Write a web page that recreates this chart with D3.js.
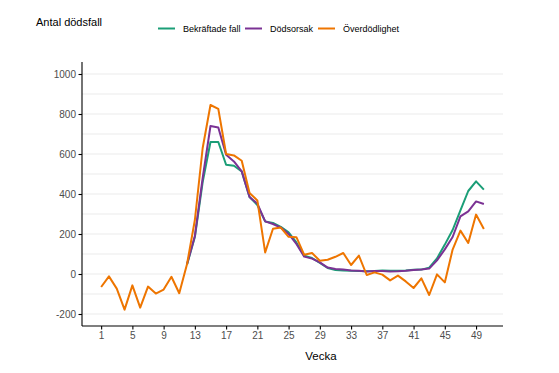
<!DOCTYPE html>
<html>
<head>
<meta charset="utf-8">
<script src="https://cdn.jsdelivr.net/npm/d3@7"></script>
<style>
  body { margin: 0; background: #fff; }
  text { font-family: "Liberation Sans", Arial, sans-serif; }
</style>
</head>
<body>
<div id="app"></div>
<script>
// veckor 1..50
const weeks = d3.range(1, 51);
const seriesNames = ['Bekräftade fall', 'Dödsorsak', 'Överdödlighet'];
const colors = ['#1b9e77', '#7b3294', '#ee7500'];

// data från vecka 12 och framåt
const bekraftade = [48, 185, 460, 660, 660, 546, 541, 513, 385, 345,
  263, 255, 236, 208, 158, 91, 80, 56, 30, 20,
  17, 16, 15, 14, 15, 17, 16, 16, 18, 21,
  22, 32, 78, 147, 220, 318, 415, 463, 422];
const dodsorsak = [50, 190, 480, 740, 733, 596, 563, 513, 385, 352,
  263, 250, 232, 200, 150, 87, 77, 58, 32, 25,
  22, 18, 16, 13, 15, 15, 13, 14, 16, 20,
  22, 27, 68, 123, 185, 288, 313, 363, 350];
// hela året
const overdodlighet = [-65, -12, -73, -178, -57, -168, -63, -98, -78, -14,
  -96, 50, 270, 630, 845, 826, 600, 593, 566, 405,
  368, 108, 226, 232, 186, 184, 96, 105, 66, 71,
  86, 105, 45, 92, -5, 8, -3, -32, -8, -37,
  -70, -22, -105, -2, -42, 122, 217, 155, 297, 225];
const startWeek = 12;

const xTicks = d3.range(1, 51, 4);
const yTicks = [-200, 0, 200, 400, 600, 800, 1000];
const yGrid = d3.range(-200, 1001, 100);

const W = 559, H = 373;
const plot = { left: 82, right: 503, top: 62, bottom: 326 };

const x = d3.scaleLinear().domain([1 - 2.45, 50 + 2.45]).range([plot.left, plot.right]);
const y = d3.scaleLinear().domain([-260, 1060]).range([plot.bottom, plot.top]);

const svg = d3.select('#app').append('svg')
  .attr('width', W).attr('height', H);

// grid
svg.append('g').selectAll('line').data(yGrid).join('line')
  .attr('x1', plot.left).attr('x2', plot.right)
  .attr('y1', d => y(d)).attr('y2', d => y(d))
  .attr('stroke', '#ebebeb').attr('stroke-width', 1);

const toPoints = (vals, start) => vals.map((v, i) => ({ w: start + i, v }));
const series = [
  toPoints(bekraftade, startWeek),
  toPoints(dodsorsak, startWeek),
  toPoints(overdodlighet, 1),
];

const line = d3.line().x(d => x(d.w)).y(d => y(d.v));

svg.append('g').selectAll('path').data(series).join('path')
  .attr('d', line)
  .attr('fill', 'none')
  .attr('stroke', (d, i) => colors[i])
  .attr('stroke-width', 2)
  .attr('stroke-linejoin', 'round');

// axes
const yAxis = g => g
  .attr('transform', `translate(${plot.left},0)`)
  .call(d3.axisLeft(y).tickValues(yTicks).tickFormat(d => String(d))
    .tickSize(3.5).tickPadding(2.5).tickSizeOuter(0))
  .call(g => g.select('.domain').attr('d', `M0,${plot.top}V${plot.bottom}`));

const xAxis = g => g
  .attr('transform', `translate(0,${plot.bottom})`)
  .call(d3.axisBottom(x).tickValues(xTicks).tickFormat(d => String(d))
    .tickSize(3.5).tickPadding(2.5).tickSizeOuter(0))
  .call(g => g.select('.domain').attr('d', `M${plot.left},0H${plot.right}`));

svg.append('g').call(yAxis);
svg.append('g').call(xAxis);

svg.selectAll('.tick text')
  .attr('fill', '#4d4d4d')
  .style('font-size', '10px')
  .style('font-family', '"Liberation Sans", Arial, sans-serif');
svg.selectAll('.domain, .tick line').attr('stroke', '#000').attr('stroke-width', 1.1);

// titles
svg.append('text')
  .attr('x', 36).attr('y', 26)
  .style('font-size', '11px')
  .attr('fill', '#000')
  .text('Antal dödsfall');

svg.append('text')
  .attr('x', 321).attr('y', 360)
  .attr('text-anchor', 'middle')
  .style('font-size', '11.5px')
  .attr('fill', '#000')
  .text('Vecka');

// legend
const legendX = [158, 245, 318];
const legend = svg.append('g').selectAll('g').data(seriesNames).join('g')
  .attr('transform', (d, i) => `translate(${legendX[i]},28.5)`);
legend.append('line')
  .attr('x1', 0).attr('x2', 17)
  .attr('stroke', (d, i) => colors[i]).attr('stroke-width', 2);
legend.append('text')
  .attr('x', 25).attr('y', 3.3)
  .style('font-size', '9px')
  .attr('fill', '#000')
  .text(d => d);
</script>
</body>
</html>
